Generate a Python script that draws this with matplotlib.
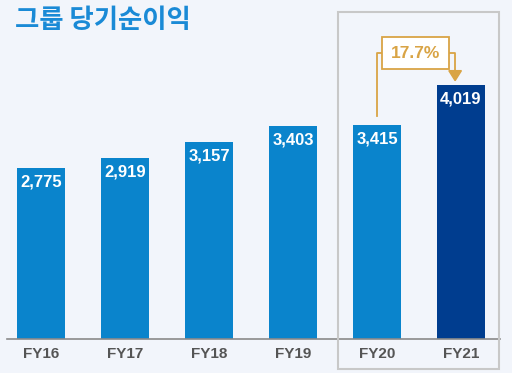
import matplotlib
matplotlib.use("Agg")
import matplotlib.pyplot as plt
from matplotlib.patches import Rectangle, Polygon
import matplotlib.transforms as mtransforms

categories = ["FY16", "FY17", "FY18", "FY19", "FY20", "FY21"]
values = [2775, 2919, 3157, 3403, 3415, 4019]
growth_label = "17.7%"
title = "그룹 당기순이익"

BG = "#f2f5fb"
LIGHT = "#0a84cc"
DARK = "#003d8f"
GOLD = "#d9a445"

fig = plt.figure(figsize=(5.12, 3.73), dpi=100, facecolor=BG)
W, H = 512, 373
ax = fig.add_axes([0, (H - 339) / H, 1, 339 / H])
ax.set_facecolor(BG)

x = list(range(len(categories)))
colors = [LIGHT] * (len(values) - 1) + [DARK]
ax.bar(x, values, width=0.57, color=colors, zorder=2)

ymin = 214
ymax = ymin + 339 * 14.96
ax.set_ylim(ymin, ymax)
ax.set_xlim(-41 / 84, (512 - 41) / 84)
upp = (ymax - ymin) / 339  # units per pixel

for xi, v in zip(x, values):
    ax.text(xi, v - 14 * upp, f"{v:,}", ha="center", va="center", color="white",
            fontsize=12, fontweight="bold", family="Liberation Sans", zorder=3)

for s in ax.spines.values():
    s.set_visible(False)
ax.set_yticks([])
ax.set_xticks([])
# baseline
ax.plot([-0.405, 5.464], [ymin, ymin], color="#8a8a8a", lw=1.2, clip_on=False, zorder=3)

for xi, c in zip(x, categories):
    ax.text(xi, ymin - 15 * upp, c, ha="center", va="center", color="#555555",
            fontsize=11, fontweight="bold", family="Liberation Sans", clip_on=False)

# grey frame around FY20-FY21
trans = mtransforms.blended_transform_factory(ax.transData, fig.transFigure)
fig.patches.append(Rectangle((3.536, 1 - 369 / H), 5.452 - 3.536, (369 - 12) / H,
                             transform=trans, fill=False, edgecolor="#c8c8c8", lw=1.5))

# growth annotation
y_top = values[4] + 9 * upp
y_h = ymax - 53 * upp
ax.plot([4, 4, 4.07], [y_top, y_h, y_h], color=GOLD, lw=1.3, zorder=4)
ax.plot([4.85, 4.93, 4.93], [y_h, y_h, values[5] + 14 * upp], color=GOLD, lw=1.3, zorder=4)
ax.add_patch(Polygon([[4.93 - 0.075, values[5] + 14 * upp], [4.93 + 0.075, values[5] + 14 * upp],
                      [4.93, values[5] + 4 * upp]], closed=True, color=GOLD, zorder=4))
ax.text(4.46, y_h, growth_label, ha="center", va="center", color=GOLD, fontsize=12.5,
        fontweight="bold", family="Liberation Sans", zorder=5,
        bbox=dict(boxstyle="square,pad=0.5", fc="white", ec=GOLD, lw=1.3))

fig.text(15 / W, 1 - 20 / H, title, ha="left", va="center", color="#1a8ad6",
         fontsize=19, fontweight="bold", family=["Noto Sans CJK KR", "DejaVu Sans"])

fig.savefig("out.png", dpi=100, facecolor=BG)
